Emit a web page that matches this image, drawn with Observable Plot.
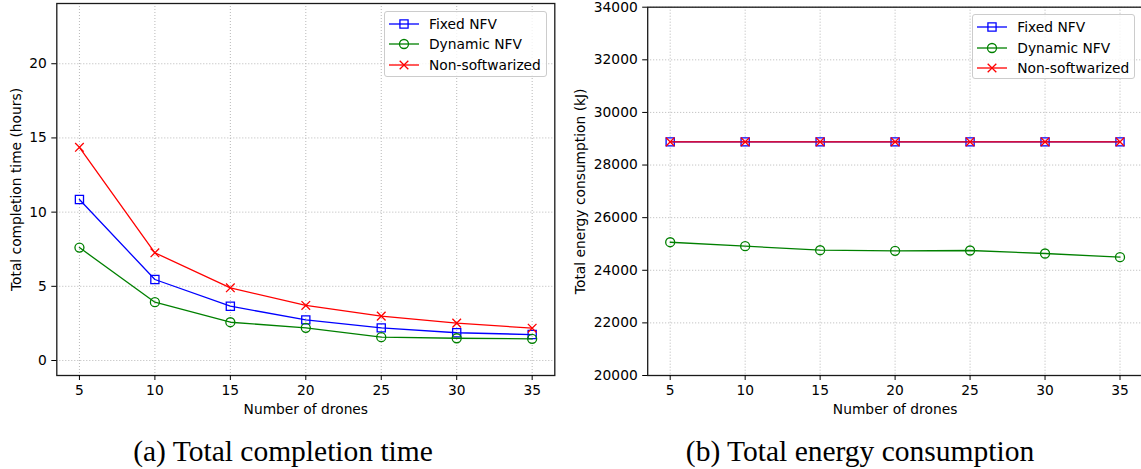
<!DOCTYPE html>
<html>
<head>
<meta charset="utf-8">
<script src="https://cdn.jsdelivr.net/npm/d3@7"></script>
<script src="https://cdn.jsdelivr.net/npm/@observablehq/plot@0.6"></script>
<style>
  html, body { margin: 0; padding: 0; background: #fff; }
  #page { position: relative; width: 1141px; height: 469px; overflow: hidden; background: #fff; font-family: "DejaVu Sans", sans-serif; }
  .panel { position: absolute; top: 0; }
  .legend { position: absolute; background: rgba(255,255,255,0.8); border: 1px solid #cccccc; border-radius: 3px; box-sizing: border-box; padding: 2px 4px; }
  .legend .row { display: flex; align-items: center; height: 20.5px; font-size: 13.8px; color: #000; white-space: nowrap; }
  .legend svg { margin-right: 10px; flex: none; }
  .caption { position: absolute; font-family: "Liberation Serif", serif; font-size: 29.5px; color: #000; white-space: nowrap; transform: translate(-50%, -50%); }
</style>
</head>
<body>
<div id="page"></div>
<script>
// Number of drones on the x axis
const drones = [5, 10, 15, 20, 25, 30, 35];

// Total completion time (hours)
const timeFixed   = [10.85, 5.46, 3.66, 2.74, 2.20, 1.87, 1.75];
const timeDynamic = [7.61, 3.93, 2.58, 2.20, 1.57, 1.50, 1.46];
const timeNonSoft = [14.37, 7.26, 4.90, 3.71, 2.99, 2.52, 2.18];

// Total energy consumption (kJ)
const energyFixed   = [28880, 28880, 28880, 28880, 28880, 28880, 28880];
const energyDynamic = [25066, 24915, 24762, 24738, 24751, 24637, 24497];
const energyNonSoft = [28880, 28880, 28880, 28880, 28880, 28880, 28880];

// Tick values
const timeTicks = [0, 5, 10, 15, 20];
const energyTicks = [20000, 22000, 24000, 26000, 28000, 30000, 32000, 34000];

// Series names, colours and markers
const seriesNames = ["Fixed NFV", "Dynamic NFV", "Non-softwarized"];
const seriesColors = ["#0000ff", "#008000", "#ff0000"];
const seriesSymbols = ["square", "circle", "times"];
const symbolR = {square: 4.6, circle: 4.5, times: 4};

const page = document.getElementById("page");

function seriesMarks(valuesList) {
  const marks = [];
  valuesList.forEach((values, i) => {
    const rows = drones.map((d, j) => ({x: d, y: values[j]}));
    marks.push(Plot.line(rows, {x: "x", y: "y", stroke: seriesColors[i], strokeWidth: 1.3}));
    marks.push(Plot.dot(rows, {x: "x", y: "y", symbol: seriesSymbols[i], r: symbolR[seriesSymbols[i]],
      fill: "none", stroke: seriesColors[i], strokeWidth: 1.3}));
  });
  return marks;
}

function panel({left, width, marginLeft, marginRight, marginTop, yDomain, yTicks, series, yLabel, yLabelOffset}) {
  const chart = Plot.plot({
    width, height: 420,
    marginLeft, marginRight, marginTop, marginBottom: 45,
    style: {fontFamily: "DejaVu Sans, sans-serif", background: "transparent", overflow: "visible"},
    x: {domain: [3.5, 36.5]},
    y: {domain: yDomain},
    marks: [
      Plot.gridX(drones, {stroke: "#b0b0b0", strokeOpacity: 1, strokeWidth: 0.9, strokeDasharray: "1,2"}),
      Plot.gridY(yTicks, {stroke: "#b0b0b0", strokeOpacity: 1, strokeWidth: 0.9, strokeDasharray: "1,2"}),
      ...seriesMarks(series),
      Plot.frame({stroke: "#1a1a1a", strokeWidth: 1.3}),
      Plot.axisX(drones, {tickSize: 5, tickPadding: 4.5, fontSize: 13.8, label: null, tickFormat: d => String(d)}),
      Plot.axisY(yTicks, {tickSize: 5, tickPadding: 5, fontSize: 13.8, label: null, tickFormat: d => String(d)}),
      Plot.text(["Number of drones"], {frameAnchor: "bottom", textAnchor: "middle", lineAnchor: "middle", dy: 34, fontSize: 13.8, fill: "#000"}),
      Plot.text([yLabel], {frameAnchor: "left", textAnchor: "middle", lineAnchor: "middle", rotate: -90, dx: -yLabelOffset, fontSize: 13.8, fill: "#000"})
    ]
  });
  chart.classList.add("panel");
  chart.style.left = left + "px";
  page.appendChild(chart);
}

panel({
  left: 0, width: 570, marginLeft: 56.3, marginRight: 15.7, marginTop: 3,
  yDomain: [-1.01, 24.06], yTicks: timeTicks,
  series: [timeFixed, timeDynamic, timeNonSoft],
  yLabel: "Total completion time (hours)", yLabelOffset: 40
});

panel({
  left: 570, width: 572, marginLeft: 77.2, marginRight: 0, marginTop: 6.7,
  yDomain: [20000, 34000], yTicks: energyTicks,
  series: [energyFixed, energyDynamic, energyNonSoft],
  yLabel: "Total energy consumption (kJ)", yLabelOffset: 67
});

// Legend boxes
function legend(left, top, width, height) {
  const box = document.createElement("div");
  box.className = "legend";
  Object.assign(box.style, {left: left + "px", top: top + "px", width: width + "px", height: height + "px"});
  seriesNames.forEach((name, i) => {
    const row = document.createElement("div");
    row.className = "row";
    const ns = "http://www.w3.org/2000/svg";
    const sw = document.createElementNS(ns, "svg");
    sw.setAttribute("width", 30); sw.setAttribute("height", 12);
    const line = document.createElementNS(ns, "line");
    Object.entries({x1: 0, x2: 30, y1: 6, y2: 6, stroke: seriesColors[i], "stroke-width": 1.3}).forEach(([k, v]) => line.setAttribute(k, v));
    sw.appendChild(line);
    const sym = {square: d3.symbolSquare, circle: d3.symbolCircle, times: d3.symbolTimes}[seriesSymbols[i]];
    const r = symbolR[seriesSymbols[i]];
    const path = document.createElementNS(ns, "path");
    path.setAttribute("d", d3.symbol(sym, Math.PI * r * r)());
    path.setAttribute("transform", "translate(15,6)");
    path.setAttribute("fill", "none");
    path.setAttribute("stroke", seriesColors[i]);
    path.setAttribute("stroke-width", 1.3);
    sw.appendChild(path);
    row.appendChild(sw);
    row.appendChild(document.createTextNode(name));
    box.appendChild(row);
  });
  page.appendChild(box);
}
legend(384, 10.7, 163, 66);
legend(972.3, 14, 163, 64.5);

// Sub-figure captions
function caption(text, x, y) {
  const c = document.createElement("div");
  c.className = "caption";
  c.textContent = text;
  c.style.left = x + "px";
  c.style.top = y + "px";
  page.appendChild(c);
}
caption("(a) Total completion time", 283, 451);
caption("(b) Total energy consumption", 860, 451);
</script>
</body>
</html>
